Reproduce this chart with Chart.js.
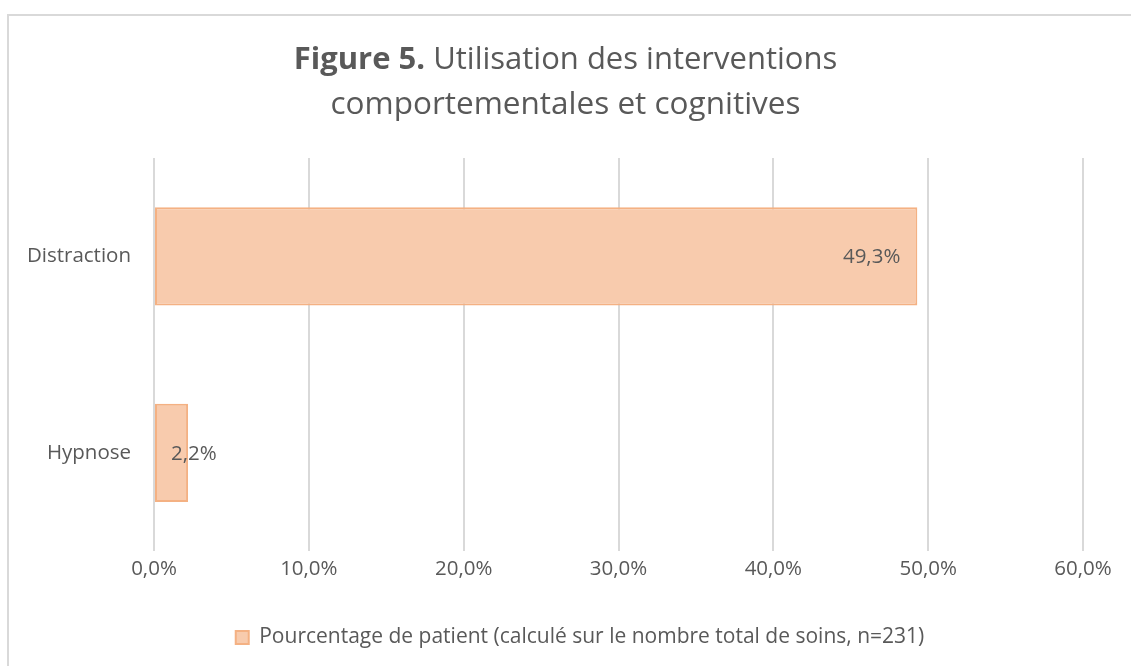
<!DOCTYPE html>
<html>
<head>
<meta charset="utf-8">
<script src="https://cdn.jsdelivr.net/npm/chart.js@4.4.1/dist/chart.umd.min.js"></script>
<style>
  html, body { margin: 0; padding: 0; background: #ffffff; }
  #wrap { position: relative; width: 1131px; height: 666px; overflow: hidden; }
  #frame { position: absolute; left: 7px; top: 14px; width: 1140px; height: 670px; border: 2px solid #d9d9d9; box-sizing: border-box; }
  canvas { position: absolute; left: 0; top: 0; }
</style>
</head>
<body>
<div id="wrap">
  <div id="frame"></div>
  <canvas id="c" width="1131" height="666"></canvas>
</div>
<script>
const categories = ['Distraction', 'Hypnose'];
const values = [49.3, 2.2];
const seriesName = 'Pourcentage de patient (calculé sur le nombre total de soins, n=231)';
const titleBold = 'Figure 5.';
const titleLine1 = ' Utilisation des interventions';
const titleLine2 = 'comportementales et cognitives';

const FONT = '"Open Sans", sans-serif';
const TEXT = '#595959';
const FS = 20.5;

function fmt(v) { return v.toFixed(1).replace('.', ',') + '%'; }

const titlePlugin = {
  id: 'customTitle',
  afterDraw(chart) {
    const ctx = chart.ctx;
    ctx.save();
    ctx.fillStyle = TEXT;
    ctx.textBaseline = 'middle';
    const size = 31;
    ctx.font = 'bold ' + size + 'px ' + FONT;
    const wb = ctx.measureText(titleBold).width;
    ctx.font = size + 'px ' + FONT;
    const wn = ctx.measureText(titleLine1).width;
    const cx = chart.width / 2;
    let x = cx - (wb + wn) / 2;
    ctx.textAlign = 'left';
    ctx.font = 'bold ' + size + 'px ' + FONT;
    ctx.fillText(titleBold, x, 60);
    ctx.font = size + 'px ' + FONT;
    ctx.fillText(titleLine1, x + wb, 60);
    ctx.textAlign = 'center';
    ctx.font = '31.5px ' + FONT;
    ctx.fillText(titleLine2, cx, 105);
    ctx.restore();
  }
};

const labelPlugin = {
  id: 'dataLabels',
  afterDatasetsDraw(chart) {
    const ctx = chart.ctx;
    const meta = chart.getDatasetMeta(0);
    ctx.save();
    ctx.font = FS + 'px ' + FONT;
    ctx.fillStyle = TEXT;
    ctx.textBaseline = 'middle';
    meta.data.forEach((bar, i) => {
      const txt = fmt(values[i]);
      const w = ctx.measureText(txt).width;
      let right = bar.x - 17;
      if (right - w < bar.base + 16) right = bar.base + 16 + w;
      ctx.textAlign = 'right';
      ctx.fillText(txt, right, bar.y + 1);
    });
    ctx.restore();
  }
};

new Chart(document.getElementById('c'), {
  type: 'bar',
  data: {
    labels: categories,
    datasets: [{
      label: seriesName,
      data: values,
      backgroundColor: '#f8cbad',
      borderColor: '#f4b183',
      borderWidth: 2,
      borderSkipped: false,
      barPercentage: 0.5,
      categoryPercentage: 1.0,
      yAxisID: 'y'
    }]
  },
  options: {
    indexAxis: 'y',
    responsive: false,
    animation: false,
    devicePixelRatio: 1,
    layout: { padding: { top: 158, right: 0, bottom: 8, left: 29 } },
    plugins: {
      title: { display: false },
      tooltip: { enabled: false },
      legend: {
        position: 'bottom',
        labels: {
          font: { family: FONT, size: 21 },
          color: TEXT,
          boxWidth: 13,
          boxHeight: 13,
          padding: 10
        }
      }
    },
    scales: {
      x: {
        min: 0,
        max: 60,
        ticks: {
          stepSize: 10,
          callback: (v) => fmt(v),
          font: { family: FONT, size: FS },
          color: TEXT,
          padding: 6,
          maxRotation: 0
        },
        grid: { color: '#d9d9d9', lineWidth: 2, drawTicks: false },
        border: { display: false },
        afterFit(scale) { scale.height = 66; }
      },
      y: {
        position: 'left',
        ticks: {
          font: { family: FONT, size: FS },
          color: TEXT,
          padding: 23
        },
        grid: { display: false, drawTicks: false },
        border: { display: false },
        afterFit(scale) { scale.width = 125; }
      },
      yRight: {
        type: 'category',
        position: 'right',
        display: true,
        ticks: { display: false },
        grid: { display: false, drawTicks: false },
        border: { display: false },
        afterFit(scale) { scale.width = 48; }
      }
    }
  },
  plugins: [titlePlugin, labelPlugin]
});
</script>
</body>
</html>
